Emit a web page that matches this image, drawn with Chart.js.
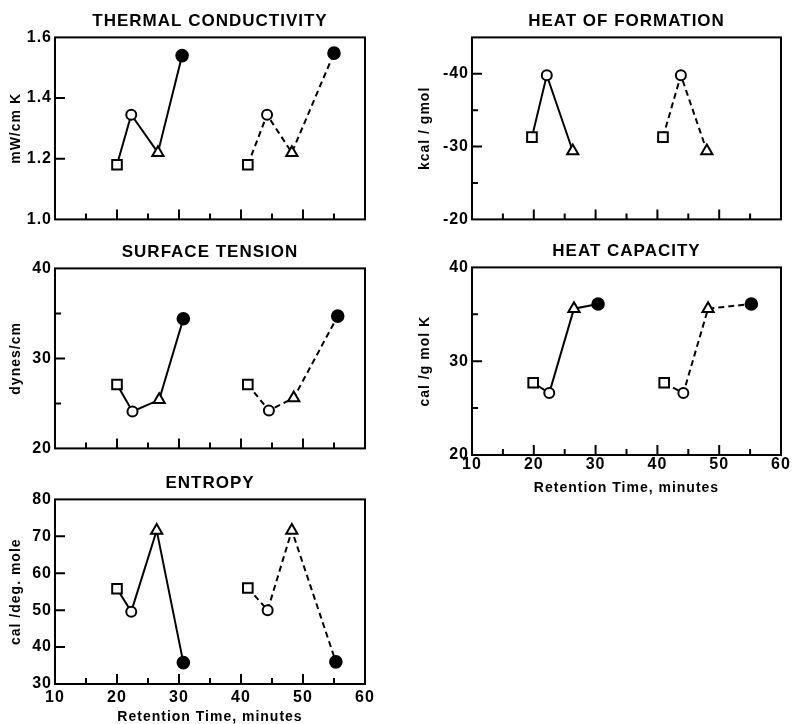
<!DOCTYPE html>
<html>
<head>
<meta charset="utf-8">
<script src="https://cdn.jsdelivr.net/npm/chart.js@4.4.1/dist/chart.umd.min.js"></script>
<style>
    html, body { margin: 0; padding: 0; background: #fff; overflow: hidden; }
    body { width: 793px; height: 724px; position: relative; }
    canvas { position: absolute; }
</style>
</head>
<body>
<canvas id="conductividadChart" width="380" height="232" style="left:0;top:0"></canvas>
<canvas id="formacionChart" width="393" height="232" style="left:400px;top:0"></canvas>
<canvas id="tensionChart" width="380" height="230" style="left:0;top:231px"></canvas>
<canvas id="capacidadChart" width="393" height="270" style="left:400px;top:230px"></canvas>
<canvas id="entropiaChart" width="380" height="264" style="left:0;top:462px"></canvas>
<script>
// Datos (tiempo de retención en minutos)

// Conductividad térmica
const tcTiempoSolida = [20, 22.3, 26.6, 30.5];
const tcValorSolida = [1.18, 1.345, 1.22, 1.54];
const tcTiempoPunteada = [41.1, 44.2, 48.2, 55];
const tcValorPunteada = [1.18, 1.345, 1.22, 1.548];

// Calor de formación
const hfTiempoSolida = [19.7, 22.1, 26.3];
const hfValorSolida = [-31.3, -39.8, -29.4];
const hfTiempoPunteada = [40.9, 43.8, 48];
const hfValorPunteada = [-31.3, -39.8, -29.4];

// Tensión superficial
const stTiempoSolida = [20, 22.5, 26.8, 30.7];
const stValorSolida = [27.1, 24.1, 25.4, 34.4];
const stTiempoPunteada = [41.1, 44.5, 48.5, 55.6];
const stValorPunteada = [27.1, 24.2, 25.6, 34.7];

// Capacidad calorífica
const hcTiempoSolida = [19.9, 22.5, 26.5, 30.4];
const hcValorSolida = [27.7, 26.6, 35.6, 36.1];
const hcTiempoPunteada = [41.1, 44.2, 48.2, 55.2];
const hcValorPunteada = [27.7, 26.6, 35.6, 36.1];

// Entropía
const enTiempoSolida = [20, 22.3, 26.4, 30.7];
const enValorSolida = [55.8, 49.6, 71.6, 35.8];
const enTiempoPunteada = [41.1, 44.3, 48.2, 55.3];
const enValorPunteada = [56, 50, 71.6, 36];

const FUENTE = '"Liberation Sans", Arial, Helvetica, sans-serif';
Chart.defaults.color = '#000';
Chart.defaults.font.family = FUENTE;

// Cuadro, círculo abierto, triángulo y círculo lleno
const estilosMarcador = ['rect', 'circle', 'triangle', 'circle'];
const rellenosMarcador = ['#fff', '#fff', '#fff', '#000'];
const radiosMarcador = [6.8, 5, 6.5, 5.8];

function crearSerie(tiempos, valores, punteada) {
    const n = valores.length;
    return {
        data: tiempos.map((t, i) => ({ x: t, y: valores[i] })),
        borderColor: '#000',
        borderWidth: 2,
        borderDash: punteada ? [6, 4] : [],
        pointStyle: estilosMarcador.slice(0, n),
        pointBackgroundColor: rellenosMarcador.slice(0, n),
        pointBorderColor: '#000',
        pointBorderWidth: 2,
        pointRadius: radiosMarcador.slice(0, n),
        tension: 0,
        fill: false
    };
}

// Marco completo y marcas hacia adentro
const marcoPlugin = {
    id: 'marco',
    beforeDraw(chart) {
        chart.ctx.letterSpacing = '1px';
    },
    beforeDatasetsDraw(chart) {
        const { ctx, chartArea: a, scales } = chart;
        const x = scales.x;
        const y = scales.y;
        ctx.save();
        ctx.strokeStyle = '#000';
        ctx.lineWidth = 2;
        ctx.strokeRect(a.left, a.top, a.right - a.left, a.bottom - a.top);
        ctx.beginPath();
        x.ticks.forEach(t => {
            if (t.value <= x.min || t.value >= x.max) return;
            const px = x.getPixelForValue(t.value);
            const largo = t.value % 10 === 0 ? 10 : 6;
            ctx.moveTo(px, a.bottom);
            ctx.lineTo(px, a.bottom - largo);
        });
        y.ticks.forEach(t => {
            if (t.value <= y.min || t.value >= y.max) return;
            const py = y.getPixelForValue(t.value);
            const largo = t.label !== '' ? 10 : 6;
            ctx.moveTo(a.left, py);
            ctx.lineTo(a.left + largo, py);
        });
        ctx.stroke();
        ctx.restore();
    }
};

function crearPanel(id, cfg) {
    const canvas = document.getElementById(id);
    if (!canvas) return;

    new Chart(canvas, {
        type: 'line',
        data: {
            datasets: [
                crearSerie(cfg.tiempoSolida, cfg.valorSolida, false),
                crearSerie(cfg.tiempoPunteada, cfg.valorPunteada, true)
            ]
        },
        options: {
            responsive: false,
            animation: false,
            events: [],
            clip: false,
            layout: { padding: { left: 0, right: cfg.padDer, top: 0, bottom: cfg.padInf } },
            plugins: {
                legend: { display: false },
                tooltip: { enabled: false },
                title: {
                    display: true,
                    text: cfg.titulo,
                    fullSize: false,
                    color: '#000',
                    font: { family: FUENTE, size: 17, weight: 'bold' },
                    padding: { top: 11, bottom: 6 }
                }
            },
            scales: {
                x: {
                    type: 'linear',
                    min: 10,
                    max: 60,
                    grid: { display: false, drawTicks: false },
                    border: { display: false },
                    ticks: {
                        display: cfg.etiquetasX,
                        stepSize: 5,
                        autoSkip: false,
                        maxRotation: 0,
                        padding: cfg.padTickX,
                        font: { family: FUENTE, size: 16, weight: 'bold' },
                        callback: v => (v % 10 === 0 ? String(v) : '')
                    },
                    title: {
                        display: cfg.etiquetasX,
                        text: 'Retention Time, minutes',
                        font: { family: FUENTE, size: 14, weight: 'bold' },
                        padding: { top: 0, bottom: cfg.padTituloX }
                    },
                    afterFit: s => { s.height = cfg.altoX; }
                },
                y: {
                    type: 'linear',
                    min: cfg.yMin,
                    max: cfg.yMax,
                    reverse: !!cfg.invertido,
                    grid: { display: false, drawTicks: false },
                    border: { display: false },
                    ticks: {
                        stepSize: cfg.paso,
                        autoSkip: false,
                        padding: 3,
                        font: { family: FUENTE, size: 16, weight: 'bold' },
                        callback: cfg.etiquetaY
                    },
                    title: {
                        display: true,
                        text: cfg.unidad,
                        font: { family: FUENTE, size: 14, weight: 'bold' },
                        padding: { top: cfg.padTituloY, bottom: 0 }
                    },
                    afterFit: s => { s.width = cfg.anchoY; }
                }
            }
        },
        plugins: [marcoPlugin]
    });
}

const cadaDiez = v => (v % 10 === 0 ? String(v) : '');

crearPanel('conductividadChart', {
    titulo: 'THERMAL CONDUCTIVITY', unidad: 'mW/cm K',
    tiempoSolida: tcTiempoSolida, valorSolida: tcValorSolida,
    tiempoPunteada: tcTiempoPunteada, valorPunteada: tcValorPunteada,
    yMin: 1.0, yMax: 1.6, paso: 0.2, etiquetaY: v => v.toFixed(1),
    anchoY: 55, padDer: 15, padInf: 5, altoX: 0, etiquetasX: false,
    padTickX: 0, padTituloX: 0, padTituloY: 8
});

crearPanel('formacionChart', {
    titulo: 'HEAT OF FORMATION', unidad: 'kcal / gmol',
    tiempoSolida: hfTiempoSolida, valorSolida: hfValorSolida,
    tiempoPunteada: hfTiempoPunteada, valorPunteada: hfValorPunteada,
    yMin: -45, yMax: -20, paso: 5, invertido: true, etiquetaY: cadaDiez,
    anchoY: 72, padDer: 12, padInf: 6, altoX: 0, etiquetasX: false,
    padTickX: 0, padTituloX: 0, padTituloY: 17
});

crearPanel('tensionChart', {
    titulo: 'SURFACE TENSION', unidad: 'dynes/cm',
    tiempoSolida: stTiempoSolida, valorSolida: stValorSolida,
    tiempoPunteada: stTiempoPunteada, valorPunteada: stValorPunteada,
    yMin: 20, yMax: 40, paso: 5, etiquetaY: cadaDiez,
    anchoY: 55, padDer: 15, padInf: 6, altoX: 0, etiquetasX: false,
    padTickX: 0, padTituloX: 0, padTituloY: 8
});

crearPanel('capacidadChart', {
    titulo: 'HEAT CAPACITY', unidad: 'cal /g mol K',
    tiempoSolida: hcTiempoSolida, valorSolida: hcValorSolida,
    tiempoPunteada: hcTiempoPunteada, valorPunteada: hcValorPunteada,
    yMin: 20, yMax: 40, paso: 5, etiquetaY: cadaDiez,
    anchoY: 72, padDer: 12, padInf: 0, altoX: 45, etiquetasX: true,
    padTickX: 0, padTituloX: 3, padTituloY: 17
});

crearPanel('entropiaChart', {
    titulo: 'ENTROPY', unidad: 'cal /deg. mole',
    tiempoSolida: enTiempoSolida, valorSolida: enValorSolida,
    tiempoPunteada: enTiempoPunteada, valorPunteada: enValorPunteada,
    yMin: 30, yMax: 80, paso: 10, etiquetaY: v => String(v),
    anchoY: 55, padDer: 15, padInf: 0, altoX: 42, etiquetasX: true,
    padTickX: 4, padTituloX: 0, padTituloY: 8
});
</script>
</body>
</html>
